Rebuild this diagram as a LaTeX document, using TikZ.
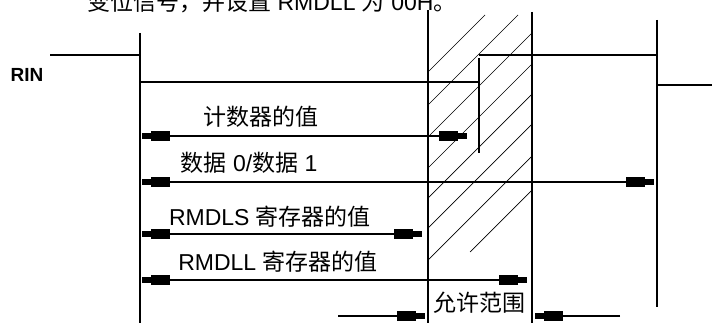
\documentclass[tikz,border=0pt]{standalone}
\usepackage{fontspec}
\setmainfont{Liberation Sans}
\newfontfamily\cjk{Noto Sans CJK SC}
\usetikzlibrary{arrows.meta,positioning}
\tikzset{
  sigline/.style = {line width=1.6pt},
  tline/.style = {line width=1.6pt},
  hatchline/.style = {line width=0.7pt},
  span/.style = {line width=1.3pt,
    {Rectangle[length=9pt,width=6pt,sep=0pt] Rectangle[length=19pt,width=10pt]}-{Rectangle[length=19pt,width=10pt,sep=0pt] Rectangle[length=9pt,width=6pt]},
    shorten >=4pt, shorten <=2pt},
  toright/.style = {line width=1.3pt, -{Rectangle[length=19pt,width=10pt,sep=0pt] Rectangle[length=9pt,width=6pt]}, shorten >=3pt},
  lbl/.style = {font=\fontsize{23}{26}\selectfont, inner sep=0pt},
  rinlbl/.style = {font=\fontsize{19}{21}\selectfont\bfseries, inner sep=0pt}
}

\begin{document}
\begin{tikzpicture}[x=1pt,y=-1pt]
  \clip (0,0) rectangle (712,323);
  \useasboundingbox (0,0) rectangle (712,323);

  % time marks
  \coordinate (t0) at (140,0);
  \coordinate (t1) at (428,0);
  \coordinate (t2) at (479,0);
  \coordinate (t3) at (532,0);
  \coordinate (t4) at (657,0);

  % cut-off line of text above the picture
  \node[lbl, anchor=base west] (head) at (87,11) {{\cjk 变位信号，并设置} RMDLL {\cjk 为} 00H{\cjk 。}};

  % allowed range, hatched
  \foreach \ya/\xb/\yb in {72/485/15, 105/518/15, 137/532/33, 168/532/64,
                           198/532/94, 228/532/124, 260/532/156}
    \draw[hatchline] (t1 |- 0,\ya) -- (\xb,\yb);
  \draw[hatchline] (470,252) -- (t3 |- 0,190);

  % vertical marks
  \draw[tline] (t0 |- 0,33) -- (t0 |- 0,323);
  \draw[tline] (t1 |- 0,10) -- (t1 |- 0,323);
  \draw[tline] (t3 |- 0,12) -- (t3 |- 0,323);
  \draw[tline] (t4 |- 0,20) -- (t4 |- 0,307);

  % RIN waveform
  \node[rinlbl] (rin) at (27,75) {RIN};
  \draw[sigline] (50,55) -- (t0 |- 0,55);
  \draw[sigline] (t0 |- 0,82) -- (t2 |- 0,82);
  \draw[sigline] (t2 |- 0,58) -- (t2 |- 0,153);
  \draw[sigline] (t2 |- 0,55) -- (t4 |- 0,55);
  \draw[sigline] (t4 |- 0,85) -- (712,85);

  % spans
  \node[lbl] (cnt) at (261,117) {\cjk 计数器的值};
  \draw[span, shorten >=12pt] (t0 |- 0,136) -- (t2 |- 0,136);
  \node[lbl] (dat) at (249,163) {{\cjk 数据} 0/{\cjk 数据} 1};
  \draw[span, shorten >=7pt] (t0 |- 0,182) -- (661,182);
  \node[lbl] (mls) at (270,217) {RMDLS {\cjk 寄存器的值}};
  \draw[span, shorten >=6pt] (t0 |- 0,234) -- (t1 |- 0,234);
  \node[lbl] (mll) at (278,262) {RMDLL {\cjk 寄存器的值}};
  \draw[span, shorten >=5pt] (t0 |- 0,280) -- (t3 |- 0,280);

  % allowed range
  \node[lbl] (rng) at (479,303) {\cjk 允许范围};
  \coordinate (ra) at (338,316);
  \coordinate (rb) at (620,316);
  \draw[toright] (ra) -- (t1 |- ra);
  \draw[toright] (rb) -- (t3 |- rb);
\end{tikzpicture}
\end{document}
